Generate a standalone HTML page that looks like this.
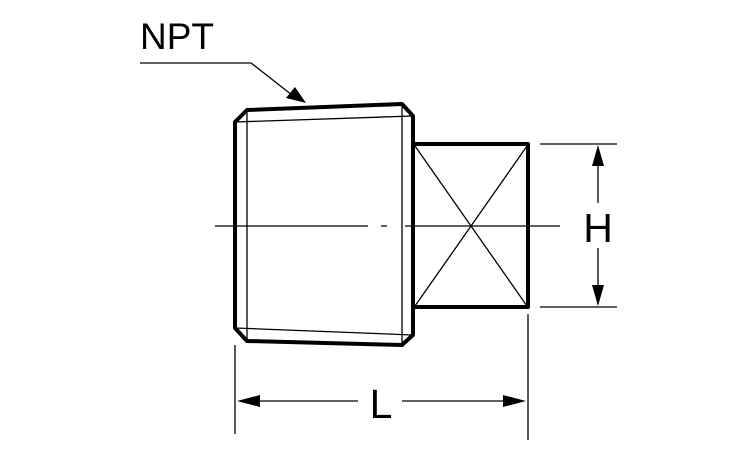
<!DOCTYPE html>
<html><head><style>html,body{margin:0;padding:0;background:#fff}svg{display:block}</style></head>
<body>
<svg width="750" height="450" viewBox="0 0 750 450" xmlns="http://www.w3.org/2000/svg">
<g fill="none" stroke="#000" stroke-linejoin="round">
<!-- body outline -->
<polygon points="235,122 247,110 402,104 413,116 413,335 402,345 247,341 235,328" stroke-width="4"/>
<line x1="235" y1="122" x2="413" y2="116" stroke-width="1.3"/>
<line x1="235" y1="328" x2="413" y2="335" stroke-width="1.3"/>
<line x1="247" y1="110" x2="247" y2="341" stroke-width="1.3"/>
<line x1="402" y1="104" x2="402" y2="345" stroke-width="1.3"/>
<!-- square -->
<polyline points="413,144 528,144 528,307 413,307" stroke-width="4"/>
<line x1="415" y1="146" x2="527" y2="306" stroke-width="1.3"/>
<line x1="415" y1="306" x2="527" y2="146" stroke-width="1.3"/>
<!-- centerline -->
<line x1="215" y1="226" x2="368" y2="226" stroke-width="1.3"/>
<line x1="381" y1="226" x2="387" y2="226" stroke-width="1.3"/>
<line x1="405" y1="226" x2="560" y2="226" stroke-width="1.3"/>
<!-- H dimension -->
<line x1="540" y1="144" x2="617" y2="144" stroke-width="1.3"/>
<line x1="540" y1="307" x2="617" y2="307" stroke-width="1.3"/>
<line x1="598" y1="160" x2="598" y2="203" stroke-width="1.3"/>
<line x1="598" y1="248" x2="598" y2="292" stroke-width="1.3"/>
<!-- L dimension -->
<line x1="235" y1="345" x2="235" y2="434" stroke-width="1.3"/>
<line x1="528" y1="314" x2="528" y2="440" stroke-width="1.3"/>
<line x1="255" y1="401" x2="358" y2="401" stroke-width="1.3"/>
<line x1="402" y1="401" x2="510" y2="401" stroke-width="1.3"/>
<!-- NPT leader -->
<polyline points="140,63 251,63 292,95" stroke-width="1.3"/>
</g>
<g fill="#000">
<polygon points="598,145 592,166 604,166"/>
<polygon points="598,306 592,285 604,285"/>
<polygon points="237,401 260,395 260,407"/>
<polygon points="526,401 503,395 503,407"/>
<polygon points="306,103 286,98 295,87"/>
</g>
<g font-family="Liberation Sans, sans-serif" fill="#000">
<text x="140" y="49" font-size="37">NPT</text>
<text x="598" y="242" font-size="41" text-anchor="middle">H</text>
<text x="381" y="418" font-size="41" text-anchor="middle">L</text>
</g>
</svg>
</body></html>
